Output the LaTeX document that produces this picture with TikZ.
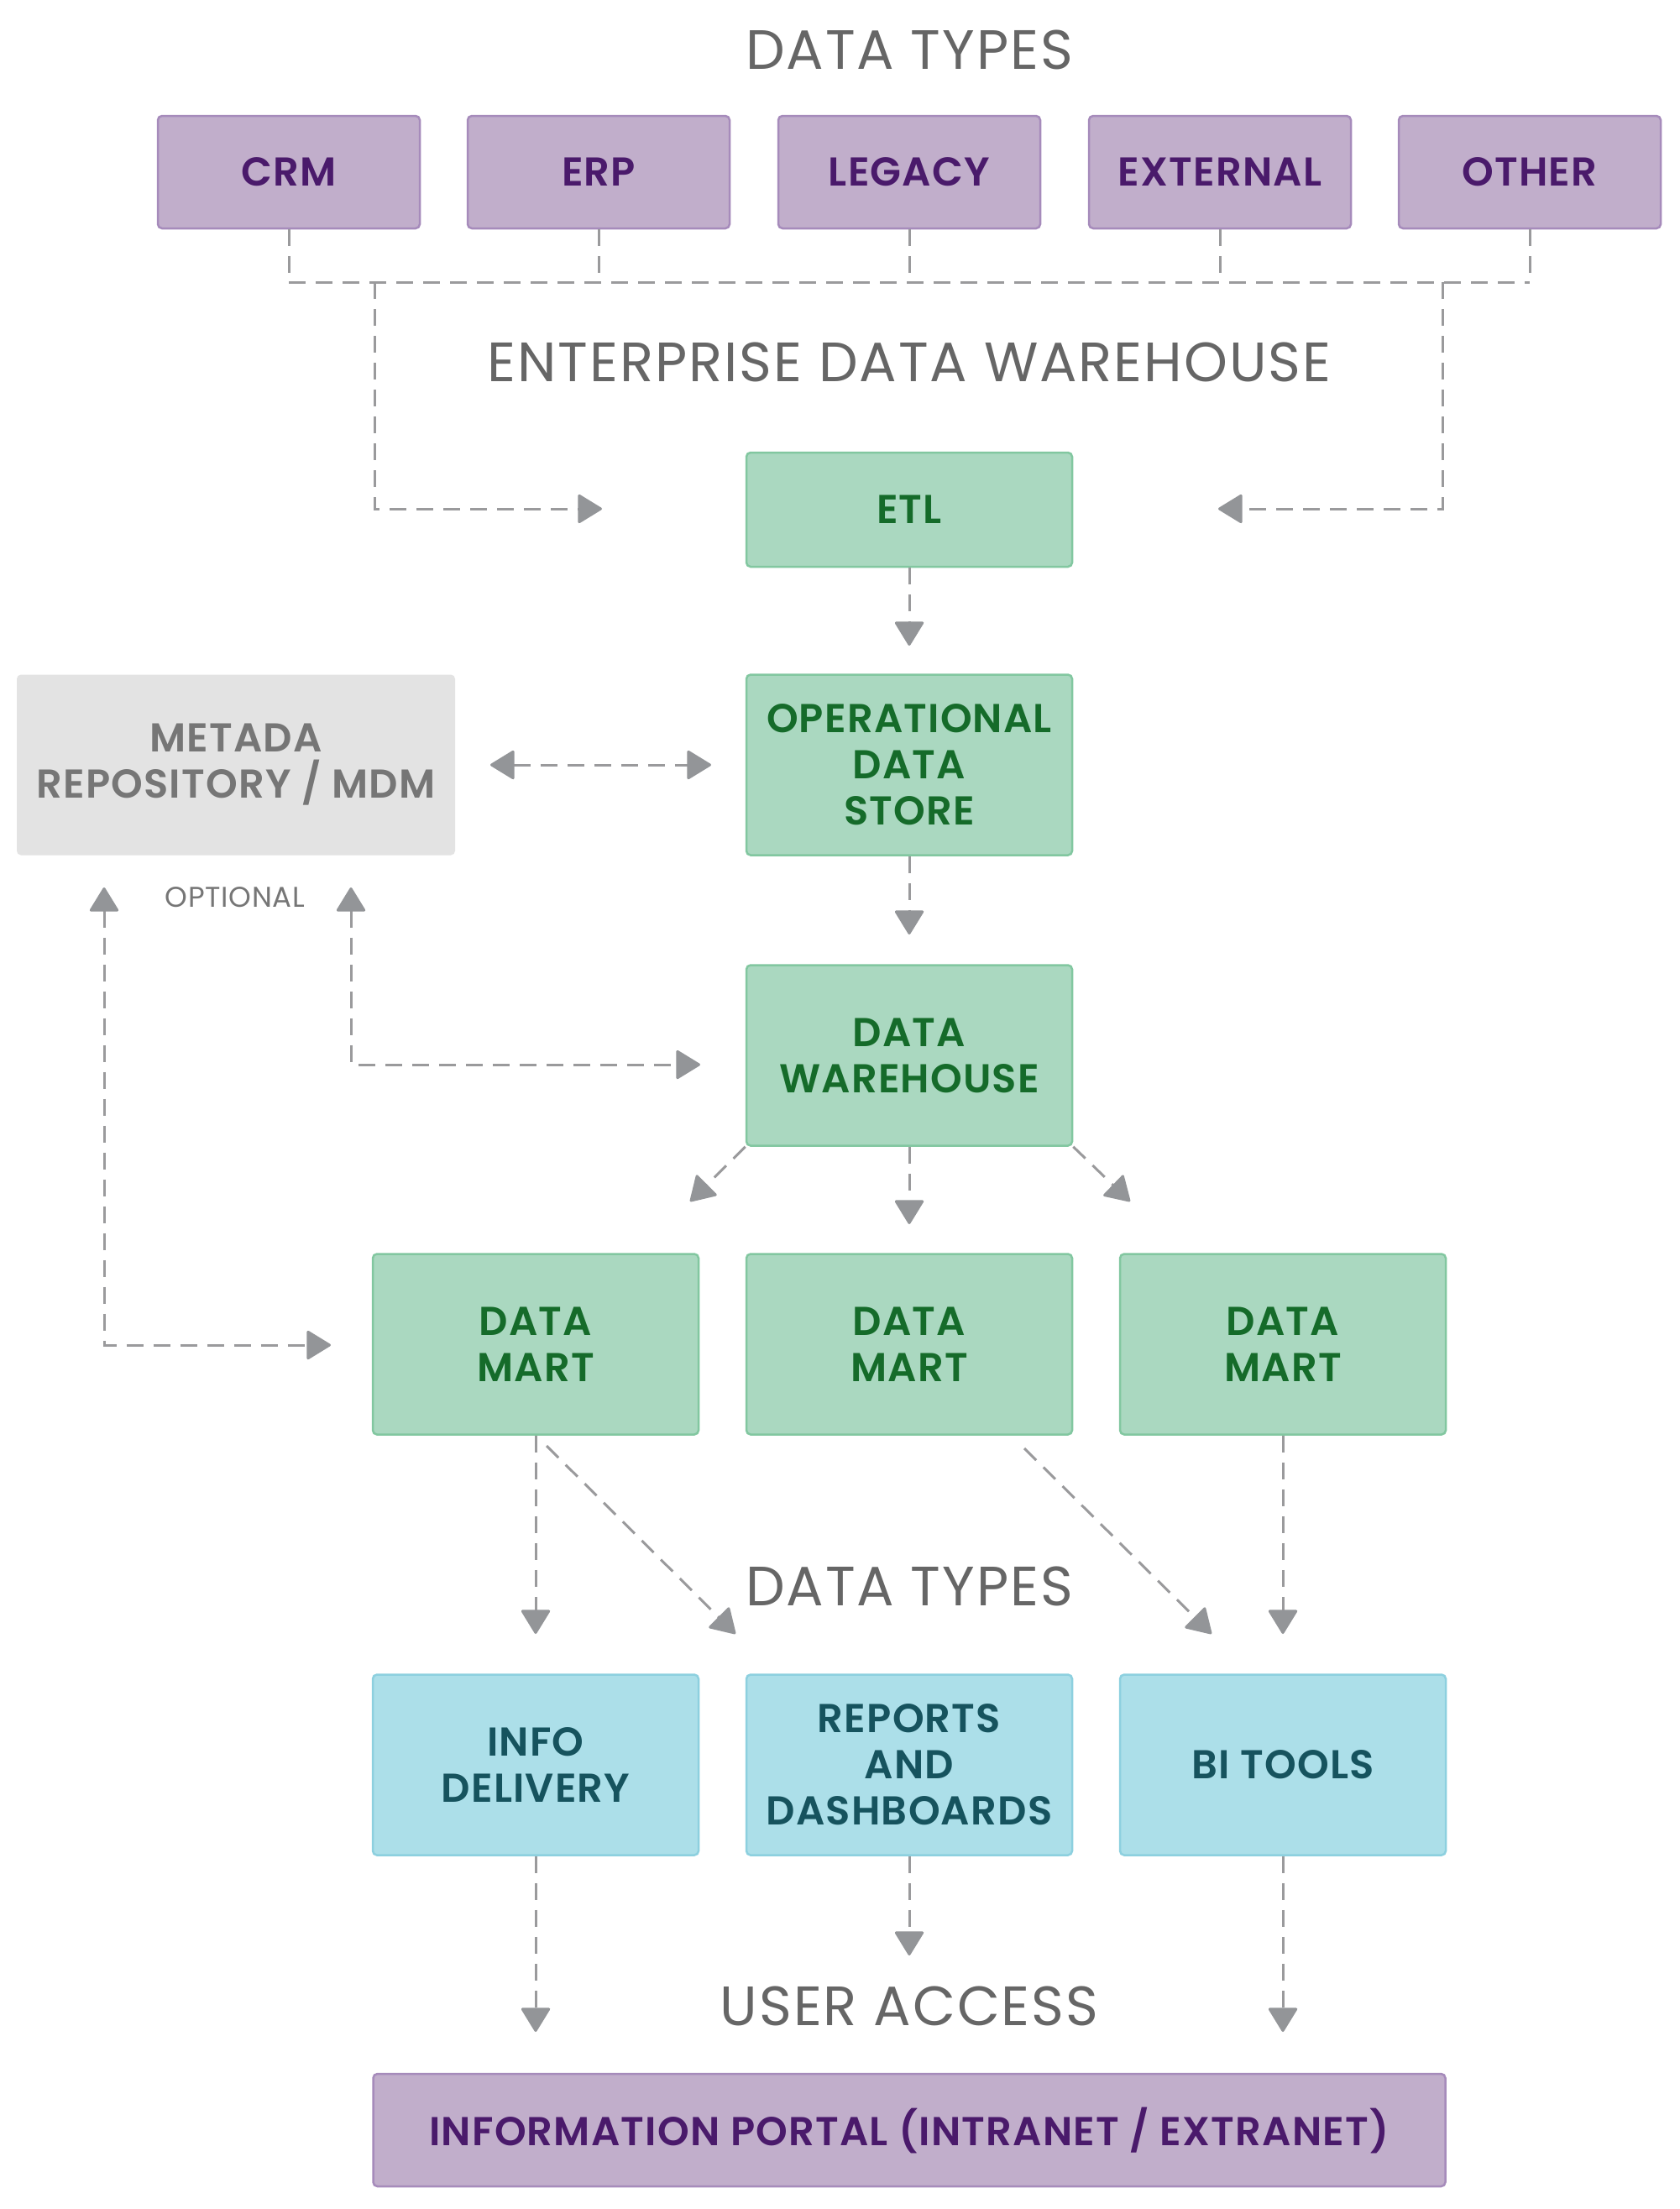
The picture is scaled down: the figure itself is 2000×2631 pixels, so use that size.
\documentclass[tikz,border=0pt]{standalone}
\usepackage{fontspec}
\setmainfont{Poppins}[BoldFont={Poppins SemiBold}]
\usetikzlibrary{arrows.meta}
\definecolor{pfill}{HTML}{C1AECB}
\definecolor{pdraw}{HTML}{A68BBB}
\definecolor{ptext}{HTML}{4A1A6B}
\definecolor{gfill}{HTML}{AAD8C0}
\definecolor{gdraw}{HTML}{82C7A0}
\definecolor{gtext}{HTML}{156B2A}
\definecolor{bfill}{HTML}{ACDFE9}
\definecolor{bdraw}{HTML}{8DD0DF}
\definecolor{btext}{HTML}{16535E}
\definecolor{mfill}{HTML}{E3E3E3}
\definecolor{mtext}{HTML}{767676}
\definecolor{hd}{HTML}{666666}
\definecolor{lc}{HTML}{9A9A9C}
\definecolor{ac}{HTML}{939598}
\tikzset{
  box/.style={rounded corners=5pt, line width=2.5pt, minimum width=388pt, minimum height=215pt,
    align=center, inner sep=0pt, font=\fontsize{48}{55}\selectfont\bfseries\addfontfeatures{LetterSpace=2.5}},
  pbox/.style={box, fill=pfill, draw=pdraw, text=ptext, minimum width=312pt, minimum height=134pt},
  gbox/.style={box, fill=gfill, draw=gdraw, text=gtext},
  bbox/.style={box, fill=bfill, draw=bdraw, text=btext},
  heading/.style={font=\fontsize{66}{70}\selectfont\addfontfeatures{LetterSpace=3}, text=hd, inner sep=0pt},
  conn/.style={draw=lc, line width=3pt, dash pattern=on 20pt off 12pt},
  tipend/.style={-{Triangle[width=36pt,length=30pt,round,color=ac,fill=ac]}},
  tipboth/.style={{Triangle[width=36pt,length=30pt,round,color=ac,fill=ac]}-{Triangle[width=36pt,length=30pt,round,color=ac,fill=ac]}},
}
\begin{document}
\begin{tikzpicture}[x=1pt,y=-1pt]
\useasboundingbox[fill=white] (0,0) rectangle (2000,2631);

% headings
\node[heading] (h1) at (1083,59) {DATA TYPES};
\node[heading] (h2) at (1083,431) {ENTERPRISE DATA WAREHOUSE};
\node[heading] (h3) at (1083,1889) {DATA TYPES};
\node[heading] (h4) at (1083,2389) {USER ACCESS};

% data types
\node[pbox] (crm) at (344,205) {CRM};
\node[pbox] (erp) at (713,205) {ERP};
\node[pbox] (leg) at (1083,205) {LEGACY};
\node[pbox] (ext) at (1453,205) {EXTERNAL};
\node[pbox] (oth) at (1822,205) {OTHER};

% warehouse
\node[gbox, minimum height=136pt] (etl) at (1083,607) {ETL};
\node[gbox] (ods) at (1083,911) {OPERATIONAL\\DATA\\STORE};
\node[box, fill=mfill, text=mtext, minimum width=522pt] (meta) at (281,911) {METADA\\REPOSITORY / MDM};
\node[gbox] (dw) at (1083,1257) {DATA\\WAREHOUSE};
\node[text=mtext, font=\fontsize{34}{38}\selectfont\addfontfeatures{LetterSpace=2}, inner sep=0pt] (opt) at (280,1069) {OPTIONAL};

\node[gbox] (dm1) at (638,1601) {DATA\\MART};
\node[gbox] (dm2) at (1083,1601) {DATA\\MART};
\node[gbox] (dm3) at (1528,1601) {DATA\\MART};

\node[bbox] (info) at (638,2102) {INFO\\DELIVERY};
\node[bbox] (rep) at (1083,2102) {REPORTS\\AND\\DASHBOARDS};
\node[bbox] (bi) at (1528,2102) {BI TOOLS};

\node[pbox, minimum width=1277pt] (portal) at (1083,2537) {INFORMATION PORTAL (INTRANET / EXTRANET)};

% coordinates
\coordinate (busL) at (344,336);
\coordinate (busR) at (1822,336);
\coordinate (bl) at (446,336);
\coordinate (br) at (1718,336);
\coordinate (etlInL) at (717,606);
\coordinate (etlInR) at (1451,606);
\coordinate (odsTip) at (1083,769);
\coordinate (metaTip) at (584,911);
\coordinate (odsTipL) at (847,911);
\coordinate (dwTip) at (1083,1113);
\coordinate (optL) at (124,1057);
\coordinate (optR) at (418,1057);
\coordinate (dm1Tip) at (394,1602);
\coordinate (dwTipL) at (834,1268);
\coordinate (dmTipL) at (822,1431);
\coordinate (dmTipC) at (1083,1458);
\coordinate (dmTipR) at (1346,1431);
\coordinate (infoTip) at (638,1946);
\coordinate (d1s) at (651,1722);
\coordinate (repTip) at (876,1946);
\coordinate (d2s) at (1220,1725);
\coordinate (biTipL) at (1443,1946);
\coordinate (biTip) at (1528,1946);
\coordinate (pTipL) at (638,2420);
\coordinate (pTipC) at (1083,2329);
\coordinate (pTipR) at (1528,2420);

% top connectors
\draw[conn] (crm.south) -- (crm.south |- busL);
\draw[conn] (erp.south) -- (erp.south |- busL);
\draw[conn] (leg.south) -- (leg.south |- busL);
\draw[conn] (ext.south) -- (ext.south |- busL);
\draw[conn] (oth.south) -- (oth.south |- busL);
\draw[conn] (busL) -- (busR);
\draw[conn, tipend] (bl) |- (etlInL);
\draw[conn, tipend] (br) |- (etlInR);

\draw[conn, tipend] (etl.south) -- (odsTip);
\draw[conn, tipboth] (metaTip) -- (odsTipL);
\draw[conn, tipend] (ods.south) -- (dwTip);
\draw[conn, tipboth] (optL) |- (dm1Tip);
\draw[conn, tipboth] (optR) |- (dwTipL);

\draw[conn, tipend] (dw.south west) -- (dmTipL);
\draw[conn, tipend] (dw.south) -- (dmTipC);
\draw[conn, tipend] (dw.south east) -- (dmTipR);

\draw[conn, tipend] (dm1.south) -- (infoTip);
\draw[conn, tipend] (d1s) -- (repTip);
\draw[conn, tipend] (d2s) -- (biTipL);
\draw[conn, tipend] (dm3.south) -- (biTip);

\draw[conn, tipend] (info.south) -- (pTipL);
\draw[conn, tipend] (rep.south) -- (pTipC);
\draw[conn, tipend] (bi.south) -- (pTipR);
\end{tikzpicture}
\end{document}
